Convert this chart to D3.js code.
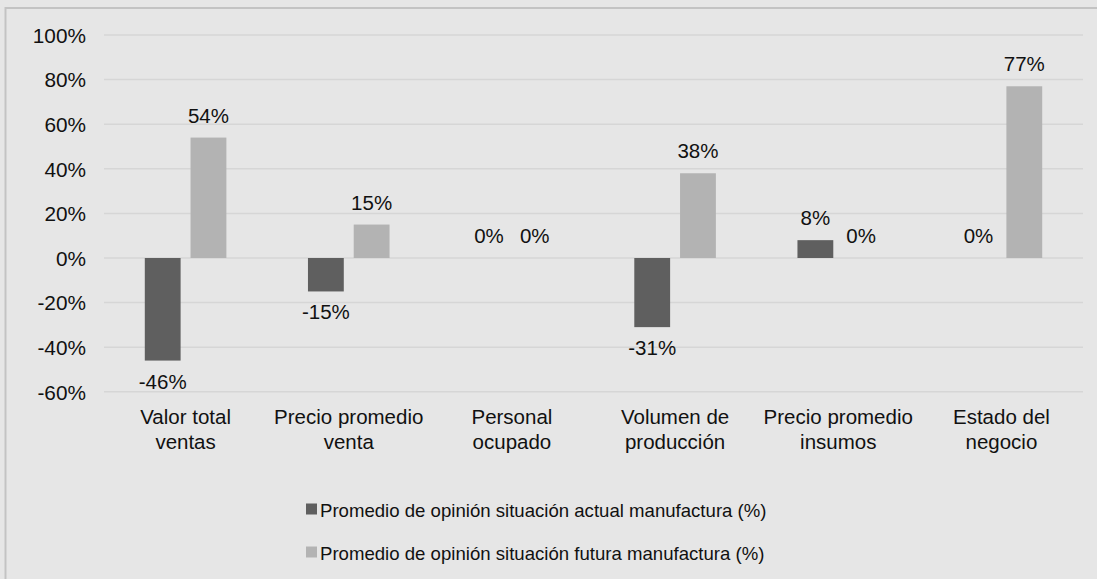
<!DOCTYPE html>
<html><head><meta charset="utf-8">
<script src="https://cdn.jsdelivr.net/npm/d3@7"></script>
<style>
html,body{margin:0;padding:0;background:#e6e6e6;overflow:hidden;}
svg{display:block;overflow:hidden;font-family:"Liberation Sans",Arial,sans-serif;}
</style></head>
<body><svg id="c" width="1097" height="579"></svg>
<script>
const categories = [["Valor total","ventas"],["Precio promedio","venta"],["Personal","ocupado"],["Volumen de","producción"],["Precio promedio","insumos"],["Estado del","negocio"]];
const seriesNames = ["Promedio de opinión situación actual manufactura (%)","Promedio de opinión situación futura manufactura (%)"];
const actualValues = [-46, -15, 0, -31, 8, 0];
const futureValues = [54, 15, 0, 38, 0, 77];
const tickValues = [-60, -40, -20, 0, 20, 40, 60, 80, 100];
const colors = ["#5f5f5f", "#b3b3b3"];

const svg = d3.select("#c");
svg.append("rect").attr("x",5.5).attr("y",8).attr("width",1300).attr("height",800)
  .attr("fill","#e6e6e6").attr("stroke","#c3c3c3").attr("stroke-width",2);

const left = 104, right = 1083;
const y = d3.scaleLinear().domain([-60,100]).range([391.8,35]);
const idx = d3.range(categories.length);
const x0 = d3.scaleBand().domain(idx).range([left,right]).paddingInner(0.5).paddingOuter(0.25);
const x1 = d3.scaleBand().domain([0,1]).range([0,x0.bandwidth()]).paddingInner(0.217).paddingOuter(0);

// gridlines
svg.append("g").selectAll("line").data(tickValues).join("line")
  .attr("x1",left).attr("x2",right).attr("y1",d=>y(d)).attr("y2",d=>y(d))
  .attr("stroke","#d6d6d6").attr("stroke-width",1.5);

// y axis
const yAxis = d3.axisLeft(y).tickValues(tickValues).tickFormat(d=>d+"%").tickSize(0).tickPadding(0);
const ga = svg.append("g").attr("transform","translate(86,0)").call(yAxis);
ga.select(".domain").remove();
ga.selectAll("text").attr("font-size","20.8px").attr("fill","#111").attr("font-family","Liberation Sans, Arial, sans-serif").attr("dy","0.35em");

const data = idx.map(i=>[actualValues[i], futureValues[i]]);
const groups = svg.append("g").selectAll("g").data(data).join("g")
  .attr("transform",(d,i)=>`translate(${x0(i)},0)`);
groups.selectAll("rect").data(d=>d).join("rect")
  .attr("x",(d,j)=>x1(j)).attr("width",x1.bandwidth())
  .attr("y",d=>y(Math.max(0,d))).attr("height",d=>Math.abs(y(d)-y(0)))
  .attr("fill",(d,j)=>colors[j]);
groups.selectAll("text").data(d=>d).join("text")
  .attr("x",(d,j)=>x1(j)+x1.bandwidth()/2)
  .attr("y",d=> d<0 ? y(d)+28 : y(d)-15)
  .attr("text-anchor","middle").attr("font-size","20.5px").attr("fill","#111")
  .text(d=>d+"%");

// category labels
const cl = svg.append("g").selectAll("text").data(categories).join("text")
  .attr("x",(d,i)=>x0(i)+x0.bandwidth()/2).attr("y",424)
  .attr("text-anchor","middle").attr("font-size","20.5px").attr("fill","#111");
cl.selectAll("tspan").data(d=>d).join("tspan")
  .attr("x",function(){return this.parentNode.getAttribute("x");})
  .attr("dy",(d,k)=>k===0?0:25).text(d=>d);

// legend
const lg = svg.append("g").selectAll("g").data(seriesNames).join("g")
  .attr("transform",(d,i)=>`translate(306,${509+i*43})`);
lg.append("rect").attr("x",0).attr("y",-5.5).attr("width",11).attr("height",11).attr("fill",(d,i)=>colors[i]);
lg.append("text").attr("x",14).attr("y",8).attr("font-size","18.6px").attr("fill","#111").text(d=>d);
</script></body></html>
